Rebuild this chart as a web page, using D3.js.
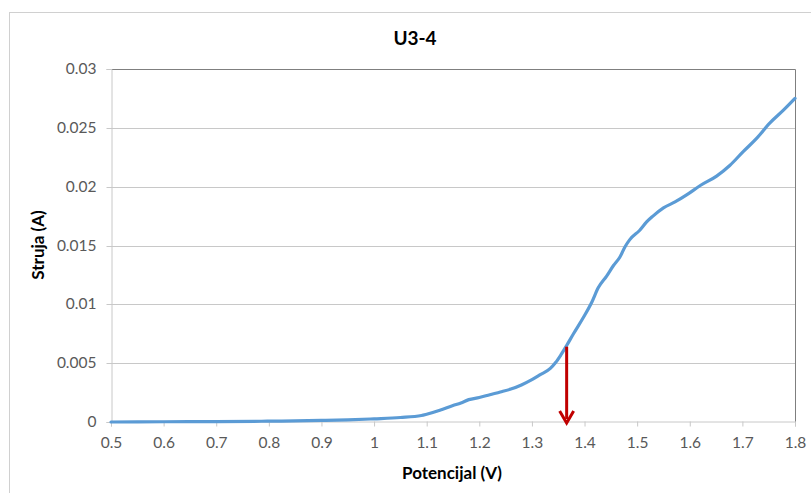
<!DOCTYPE html>
<html>
<head>
<meta charset="utf-8">
<script src="https://cdn.jsdelivr.net/npm/d3@7"></script>
<style>
  html, body { margin: 0; padding: 0; background: #fff; }
  svg { display: block; }
</style>
</head>
<body>
<script>
// ---- data ----
const title = "U3-4";
const xTitle = "Potencijal (V)";
const yTitle = "Struja (A)";
const xTicks = [0.5, 0.6, 0.7, 0.8, 0.9, 1.0, 1.1, 1.2, 1.3, 1.4, 1.5, 1.6, 1.7, 1.8];
const xTickLabels = ["0.5", "0.6", "0.7", "0.8", "0.9", "1", "1.1", "1.2", "1.3", "1.4", "1.5", "1.6", "1.7", "1.8"];
const yTicks = [0, 0.005, 0.01, 0.015, 0.02, 0.025, 0.03];
const yTickLabels = ["0", "0.005", "0.01", "0.015", "0.02", "0.025", "0.03"];
const potential = [0.5, 0.6, 0.7, 0.8, 0.9, 0.95, 1.0, 1.05, 1.09, 1.1, 1.125, 1.15, 1.165, 1.18, 1.2, 1.22, 1.24, 1.26, 1.28, 1.30, 1.315, 1.335, 1.345, 1.355, 1.366, 1.379, 1.398, 1.414, 1.426, 1.442, 1.455, 1.467, 1.477, 1.486, 1.505, 1.518, 1.530, 1.550, 1.572, 1.594, 1.620, 1.651, 1.676, 1.702, 1.727, 1.752, 1.778, 1.800];
const current = [0, 0.00002, 0.00004, 0.00007, 0.00013, 0.00018, 0.00027, 0.00038, 0.00055, 0.00066, 0.00100, 0.0014, 0.00162, 0.0019, 0.00208, 0.00232, 0.00255, 0.0028, 0.00315, 0.0036, 0.0040, 0.00455, 0.00505, 0.0057, 0.0065, 0.0075, 0.0089, 0.0102, 0.0114, 0.0124, 0.0133, 0.0140, 0.0149, 0.0155, 0.0163, 0.0170, 0.0175, 0.0182, 0.0187, 0.0193, 0.0201, 0.0209, 0.0218, 0.0230, 0.0241, 0.0254, 0.0265, 0.0275];
const arrowPotential = [1.366];
const arrowCurrent = [0.0064, 0];

// ---- layout ----
const W = 811, H = 493;
const plot = { left: 111, right: 795, top: 69, bottom: 422 };
const font = "Lato, 'Open Sans', sans-serif";

const svg = d3.select("body").append("svg").attr("width", W).attr("height", H);

// chart border
svg.append("rect").attr("x", 9.5).attr("y", 12.5).attr("width", W + 10).attr("height", H + 10)
  .attr("fill", "#fff").attr("stroke", "#d0d0d0").attr("stroke-width", 1);

const x = d3.scaleLinear().domain([0.5, 1.8]).range([plot.left, plot.right]);
const y = d3.scaleLinear().domain([0, 0.03]).range([plot.bottom, plot.top]);

// gridlines
svg.append("g").selectAll("line").data(yTicks.filter(d => d > 0 && d < 0.03)).join("line")
  .attr("x1", plot.left).attr("x2", plot.right)
  .attr("y1", d => Math.round(y(d)) + 0.5).attr("y2", d => Math.round(y(d)) + 0.5)
  .attr("stroke", "#c8c8c8").attr("stroke-width", 1);

// top and right border of plot area (darker)
svg.append("path")
  .attr("d", `M${plot.left},${y(0.03) + 0.5}H${plot.right + 0.5}V${plot.bottom}`)
  .attr("fill", "none").attr("stroke", "#7f7f7f").attr("stroke-width", 1);

// y axis
const yAxis = d3.axisLeft(y).tickValues(yTicks).tickSize(5).tickPadding(10)
  .tickFormat((d, i) => yTickLabels[i]);
const gy = svg.append("g").attr("transform", `translate(${plot.left + 0.5},0)`).call(yAxis);
gy.select(".domain").attr("stroke", "#c8c8c8");
gy.selectAll(".tick line").attr("stroke", "#c8c8c8");
gy.selectAll(".tick text").attr("fill", "#595959").style("font-family", font).style("font-size", "15.5px");
gy.selectAll(".tick").attr("transform", d => `translate(0,${Math.round(y(d)) + 0.5})`);

// x axis
const xAxis = d3.axisBottom(x).tickValues(xTicks).tickSize(5).tickPadding(10)
  .tickFormat((d, i) => xTickLabels[i]);
const gx = svg.append("g").attr("transform", `translate(0,${plot.bottom - 0.5})`).call(xAxis);
gx.select(".domain").attr("stroke", "#c8c8c8");
gx.selectAll(".tick line").attr("stroke", "#c8c8c8");
gx.selectAll(".tick text").attr("fill", "#595959").style("font-family", font).style("font-size", "15.5px");

// data line
const pts = potential.map((v, i) => [v, current[i]]);
const line = d3.line().x(d => x(d[0])).y(d => y(d[1])).curve(d3.curveMonotoneX);
svg.append("path").datum(pts).attr("d", line)
  .attr("fill", "none").attr("stroke", "#5b9bd5").attr("stroke-width", 3.2)
  .attr("stroke-linejoin", "round").attr("stroke-linecap", "round");

// red arrow
const ax = x(arrowPotential[0]);
const aTop = y(arrowCurrent[0]);
const aTip = y(arrowCurrent[1]) + 1;
svg.append("line").attr("x1", ax).attr("x2", ax).attr("y1", aTop).attr("y2", aTip - 4)
  .attr("stroke", "#c00000").attr("stroke-width", 3);
svg.append("path")
  .attr("d", `M${ax - 7},${aTip - 12} L${ax},${aTip} L${ax + 7},${aTip - 12}`)
  .attr("fill", "none").attr("stroke", "#c00000").attr("stroke-width", 3)
  .attr("stroke-linejoin", "miter");

// titles
svg.append("text").attr("x", 415).attr("y", 45).attr("text-anchor", "middle")
  .style("font-family", font).style("font-size", "19px").style("font-weight", "bold")
  .attr("fill", "#000").text(title);
svg.append("text").attr("x", 452).attr("y", 479).attr("text-anchor", "middle")
  .style("font-family", font).style("font-size", "17px").style("font-weight", "bold")
  .attr("fill", "#000").text(xTitle);
svg.append("text").attr("transform", "translate(44,245) rotate(-90)").attr("text-anchor", "middle")
  .style("font-family", font).style("font-size", "17px").style("font-weight", "bold")
  .attr("fill", "#000").text(yTitle);
</script>
</body>
</html>
